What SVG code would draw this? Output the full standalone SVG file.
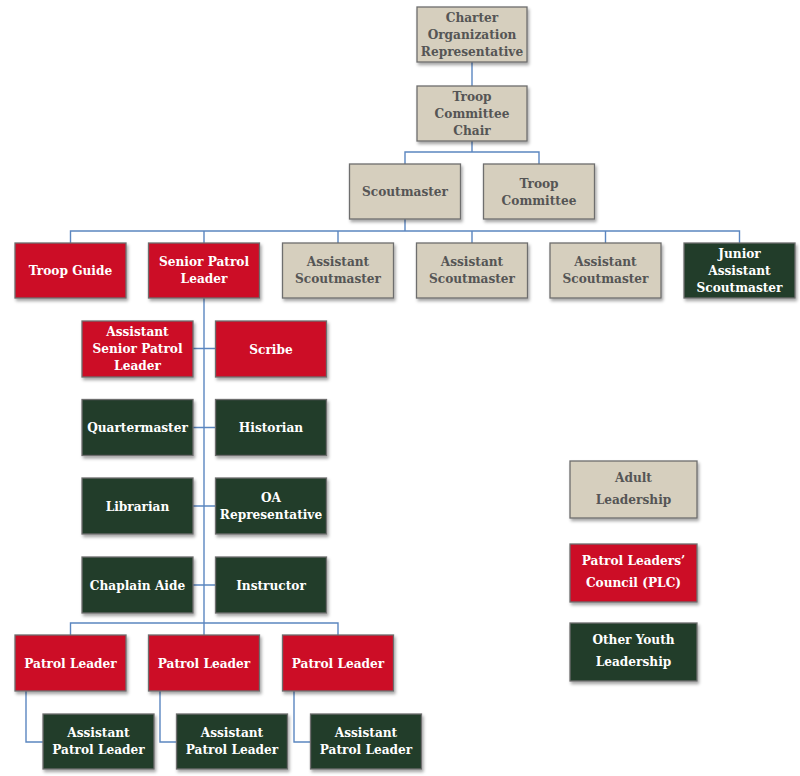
<svg xmlns="http://www.w3.org/2000/svg" width="800" height="776" viewBox="0 0 800 776">
<defs>
<filter id="sh" x="-10%" y="-10%" width="130%" height="140%">
<feDropShadow dx="1.5" dy="2.5" stdDeviation="1.5" flood-color="#000" flood-opacity="0.35"/>
</filter>
<style>
rect{stroke:#6e6e6e;stroke-width:1.3;filter:url(#sh)}
.a{fill:#d6cfbe}.r{fill:#cc1026}.g{fill:#233c2b}
text{font-family:"DejaVu Serif","Liberation Serif",serif;font-stretch:condensed;font-weight:bold;font-size:13.5px;text-anchor:middle}
.ta{fill:#555555}.tw{fill:#ffffff}
.c path{fill:none;stroke:#5b86c0;stroke-width:1.4}
</style>
</defs>
<rect width="800" height="776" fill="#ffffff" style="stroke:none;filter:none"/>
<g class="c" id="connectors">
<path d="M472 62V86"/>
<path d="M472 141V152M405 164V152H539V164"/>
<path d="M405 219V231M70.5 243V231H739.5V243M204 231V243M338 231V243M472 231V243M605.5 231V243"/>
<path d="M204 298V623"/>
<path d="M193 348.5H215.5M193 427.5H215.5M193 506H215.5M193 585H215.5"/>
<path d="M70.5 635V623H338V635M204 623V635"/>
<path d="M26 691V742H43M160 691V742H176.5M294 691V742H310.5"/>
</g>
<g id="charter"><rect class="a" x="417" y="7" width="110" height="55"/><text class="ta" x="472" y="22">Charter</text><text class="ta" x="472" y="39">Organization</text><text class="ta" x="472" y="56">Representative</text></g>
<g id="tcc"><rect class="a" x="417" y="86" width="110" height="55"/><text class="ta" x="472" y="101">Troop</text><text class="ta" x="472" y="118">Committee</text><text class="ta" x="472" y="135">Chair</text></g>
<g id="scoutmaster"><rect class="a" x="349.5" y="164" width="111" height="55"/><text class="ta" x="405" y="196">Scoutmaster</text></g>
<g id="troopcommittee"><rect class="a" x="483.5" y="164" width="111" height="55"/><text class="ta" x="539" y="188">Troop</text><text class="ta" x="539" y="205">Committee</text></g>
<g id="troopguide"><rect class="r" x="15" y="243" width="111" height="55"/><text class="tw" x="70.5" y="275">Troop Guide</text></g>
<g id="spl"><rect class="r" x="148.5" y="243" width="111" height="55"/><text class="tw" x="204" y="266">Senior Patrol</text><text class="tw" x="204" y="283">Leader</text></g>
<g id="asm1"><rect class="a" x="282.5" y="243" width="111" height="55"/><text class="ta" x="338" y="266">Assistant</text><text class="ta" x="338" y="283">Scoutmaster</text></g>
<g id="asm2"><rect class="a" x="416.5" y="243" width="111" height="55"/><text class="ta" x="472" y="266">Assistant</text><text class="ta" x="472" y="283">Scoutmaster</text></g>
<g id="asm3"><rect class="a" x="550" y="243" width="111" height="55"/><text class="ta" x="605.5" y="266">Assistant</text><text class="ta" x="605.5" y="283">Scoutmaster</text></g>
<g id="jasm"><rect class="g" x="684" y="243" width="111" height="55"/><text class="tw" x="739.5" y="258">Junior</text><text class="tw" x="739.5" y="275">Assistant</text><text class="tw" x="739.5" y="292">Scoutmaster</text></g>
<g id="aspl"><rect class="r" x="82" y="321" width="111" height="56"/><text class="tw" x="137.5" y="336">Assistant</text><text class="tw" x="137.5" y="353">Senior Patrol</text><text class="tw" x="137.5" y="370">Leader</text></g>
<g id="scribe"><rect class="r" x="215.5" y="321" width="111" height="56"/><text class="tw" x="271" y="353.5">Scribe</text></g>
<g id="quartermaster"><rect class="g" x="82" y="399.5" width="111" height="56"/><text class="tw" x="137.5" y="432">Quartermaster</text></g>
<g id="historian"><rect class="g" x="215.5" y="399.5" width="111" height="56"/><text class="tw" x="271" y="432">Historian</text></g>
<g id="librarian"><rect class="g" x="82" y="478" width="111" height="56"/><text class="tw" x="137.5" y="510.5">Librarian</text></g>
<g id="oarep"><rect class="g" x="215.5" y="478" width="111" height="56"/><text class="tw" x="271" y="502">OA</text><text class="tw" x="271" y="519">Representative</text></g>
<g id="chaplain"><rect class="g" x="82" y="557" width="111" height="56"/><text class="tw" x="137.5" y="589.5">Chaplain Aide</text></g>
<g id="instructor"><rect class="g" x="215.5" y="557" width="111" height="56"/><text class="tw" x="271" y="589.5">Instructor</text></g>
<g id="pl1"><rect class="r" x="15" y="635" width="111" height="56"/><text class="tw" x="70.5" y="667.5">Patrol Leader</text></g>
<g id="pl2"><rect class="r" x="148.5" y="635" width="111" height="56"/><text class="tw" x="204" y="667.5">Patrol Leader</text></g>
<g id="pl3"><rect class="r" x="282.5" y="635" width="111" height="56"/><text class="tw" x="338" y="667.5">Patrol Leader</text></g>
<g id="apl1"><rect class="g" x="43" y="714" width="111" height="55"/><text class="tw" x="98.5" y="737">Assistant</text><text class="tw" x="98.5" y="754">Patrol Leader</text></g>
<g id="apl2"><rect class="g" x="176.5" y="714" width="111" height="55"/><text class="tw" x="232" y="737">Assistant</text><text class="tw" x="232" y="754">Patrol Leader</text></g>
<g id="apl3"><rect class="g" x="310.5" y="714" width="111" height="55"/><text class="tw" x="366" y="737">Assistant</text><text class="tw" x="366" y="754">Patrol Leader</text></g>
<g id="legend-adult"><rect class="a" x="570" y="461" width="127" height="57"/><text class="ta" x="633.5" y="482">Adult</text><text class="ta" x="633.5" y="504">Leadership</text></g>
<g id="legend-plc"><rect class="r" x="570" y="544" width="127" height="58"/><text class="tw" x="633.5" y="565">Patrol Leaders’</text><text class="tw" x="633.5" y="587">Council (PLC)</text></g>
<g id="legend-other"><rect class="g" x="570" y="623" width="127" height="58"/><text class="tw" x="633.5" y="644">Other Youth</text><text class="tw" x="633.5" y="666">Leadership</text></g>
</svg>
